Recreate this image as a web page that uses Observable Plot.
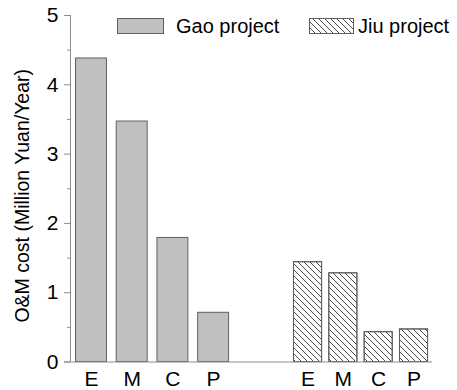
<!DOCTYPE html>
<html>
<head>
<meta charset="utf-8">
<script src="https://cdn.jsdelivr.net/npm/d3@7"></script>
<script src="https://cdn.jsdelivr.net/npm/@observablehq/plot@0.6"></script>
<style>
  html, body { margin: 0; padding: 0; background: #fff; }
  #chart { position: relative; width: 457px; height: 390px; font-family: "Liberation Sans", Arial, sans-serif; }
  #legend { position: absolute; left: 0; top: 0; }
</style>
</head>
<body>
<div id="chart"></div>
<script>
// O&M cost per component, million yuan per year
const categories = ["E", "M", "C", "P"];
const gaoValues = [4.38, 3.47, 1.79, 0.71];
const jiuValues = [1.44, 1.28, 0.43, 0.47];
const projects = ["Gao project", "Jiu project"];
const yTicks = [0, 1, 2, 3, 4, 5];
const yMinorTicks = [0.5, 1.5, 2.5, 3.5, 4.5];

// bar layout along x, in units of one Gao slot
const groups = [
  {name: projects[0], values: gaoValues, start: 0, step: 1, width: 0.76, fill: "#c0c0c0"},
  {name: projects[1], values: jiuValues, start: 5.32, step: 0.868, width: 0.69, fill: "url(#hatch)"}
];
const rows = groups.map(g => g.values.map((v, i) => {
  const c = g.start + i * g.step;
  return {project: g.name, category: categories[i], value: v, center: c, x1: c - g.width / 2, x2: c + g.width / 2};
}));
const centers = rows.flat().map(d => d.center);
const labels = rows.flat().map(d => d.category);
const xDomain = [-0.516, 8.378];

const axisColor = "#8c8c8c";
const font = "\"Liberation Sans\", Arial, sans-serif";

const plot = Plot.plot({
  width: 457,
  height: 390,
  marginLeft: 70,
  marginRight: 25,
  marginTop: 15,
  marginBottom: 28.5,
  style: {fontFamily: font, fontSize: "21px", color: "#000", background: "#fff"},
  x: {type: "linear", domain: xDomain, axis: null},
  y: {domain: [0, 5], axis: null},
  marks: [
    Plot.rectY(rows[0], {x1: "x1", x2: "x2", y: "value", fill: groups[0].fill, stroke: "#606060", strokeWidth: 1}),
    Plot.rectY(rows[1], {x1: "x1", x2: "x2", y: "value", fill: "#fff", stroke: "#606060", strokeWidth: 1}),
    Plot.rectY(rows[1], {x1: "x1", x2: "x2", y: "value", fill: groups[1].fill, stroke: "#606060", strokeWidth: 1}),
    // axis lines
    Plot.ruleX([xDomain[0]], {y1: 0, y2: 5, stroke: axisColor, strokeWidth: 1}),
    Plot.ruleY([0], {x1: xDomain[0], x2: xDomain[1], insetLeft: -6, stroke: axisColor, strokeWidth: 1}),
    Plot.axisY(yTicks, {tickSize: 6, tickPadding: 6, tickFormat: d3.format("d"), stroke: axisColor, fill: "#000", fontSize: 21, label: null}),
    Plot.axisY(yMinorTicks, {tickSize: 3, tickFormat: () => "", stroke: axisColor, label: null}),
    Plot.axisX(centers, {tickSize: 0, tickPadding: 9, tickFormat: (d, i) => labels[i], fontSize: 21, fill: "#000", label: null}),
    Plot.text(["O&M cost (Million Yuan/Year)"], {
      frameAnchor: "left", textAnchor: "middle", rotate: -90, dx: -48, dy: 7, fontSize: 19.5, fill: "#000", text: d => d
    })
  ]
});

// diagonal hatch used by the Jiu bars
d3.select(plot).insert("defs", ":first-child").html(`
  <pattern id="hatch" patternUnits="userSpaceOnUse" width="6" height="6">
    <path d="M-1,-1 L7,7 M-4,2 L2,8 M2,-4 L8,2" stroke="#333" stroke-width="0.9" fill="none"/>
  </pattern>`);

const chart = document.getElementById("chart");
chart.appendChild(plot);

// legend in the upper part of the plot
const legend = d3.select(chart).append("svg")
  .attr("id", "legend").attr("width", 457).attr("height", 44)
  .style("font-family", font);
legend.append("defs").html(`
  <pattern id="hatch-legend" patternUnits="userSpaceOnUse" width="6" height="6">
    <path d="M-1,-1 L7,7 M-4,2 L2,8 M2,-4 L8,2" stroke="#333" stroke-width="0.9" fill="none"/>
  </pattern>`);
const legendItems = [
  {label: projects[0], x: 117.5, w: 46, fill: "#c0c0c0", tx: 176},
  {label: projects[1], x: 309.5, w: 44, fill: "url(#hatch-legend)", tx: 358}
];
const item = legend.selectAll("g").data(legendItems).join("g");
item.append("rect").attr("x", d => d.x).attr("y", 18.5).attr("width", d => d.w).attr("height", 15)
  .attr("fill", "#fff").attr("stroke", "none");
item.append("rect").attr("x", d => d.x).attr("y", 18.5).attr("width", d => d.w).attr("height", 15)
  .attr("fill", d => d.fill).attr("stroke", "#606060");
item.append("text").attr("x", d => d.tx).attr("y", 32.5).attr("font-size", 20).attr("fill", "#000")
  .text(d => d.label);
</script>
</body>
</html>
